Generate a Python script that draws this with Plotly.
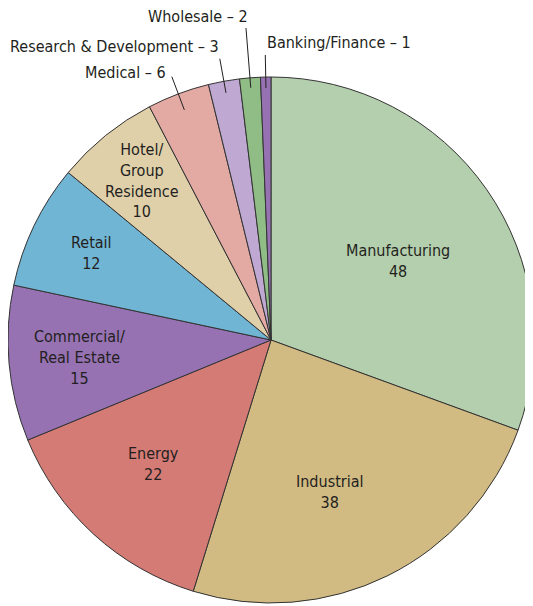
import math
import plotly.graph_objects as go

W, H = 533, 606
OFF = 8  # page body margin in the browser (px)

categories = ["Manufacturing", "Industrial", "Energy", "Commercial/<br>Real Estate", "Retail",
              "Hotel/<br>Group<br>Residence", "Medical", "Research & Development", "Wholesale",
              "Banking/Finance"]
values = [48, 38, 22, 15, 12, 10, 6, 3, 2, 1]
colors = ["#b3cfad", "#d1bb83", "#d47b75", "#9672b3", "#71b5d5",
          "#e0d0aa", "#e2aaa3", "#bfa9d3", "#8fbd85", "#9672b3"]

# style: label placement (radius fraction, angle tweak in degrees) for inside labels
label_rfrac = [0.57, 0.62, 0.65, 0.73, 0.76, 0.78, None, None, None, None]
label_dang = [3, 5, 1, 0, 0, 0, 0, 0, 0, 0]
# outside label styling: (leader inner frac, leader outer frac, xanchor, dx, dy)
outside_style = {
    6: (0.935, 1.07, "right", -4, -4),
    7: (0.955, 1.087, "right", 1, -12),
    8: (0.962, 1.19, "right", 4, -12),
    9: (0.958, 1.084, "left", 0, -12),
}

cx, cy, R = 271, 340, 263   # screen pixels
font_family = "Liberation Sans Narrow, DejaVu Sans Condensed, Arial Narrow, sans-serif"
text_color = "#231f20"
FS = 16

def px(x):
    return (x - OFF) / W

def py(y):
    return 1 - (y - OFF) / H

total = sum(values)
fig = go.Figure(go.Pie(
    labels=[c.replace("<br>", " ") for c in categories],
    values=values,
    sort=False,
    direction="clockwise",
    rotation=0,
    textinfo="none",
    marker=dict(colors=colors, line=dict(color="#333333", width=1)),
    domain=dict(x=[max(0, px(cx - R)), min(1, px(cx + R))], y=[py(cy + R), py(cy - R)]),
    showlegend=False,
))

annotations = []
shapes = []
cum = 0
for i, (cat, v) in enumerate(zip(categories, values)):
    mid = (cum + v / 2) / total * 2 * math.pi
    cum += v
    if label_rfrac[i] is not None:
        a = mid + math.radians(label_dang[i])
        s, c = math.sin(a), -math.cos(a)
        f = label_rfrac[i]
        annotations.append(dict(
            x=px(cx + f * R * s), y=py(cy + f * R * c), xref="paper", yref="paper",
            xanchor="center", yanchor="middle",
            text=f"{cat}<br>{v}", showarrow=False, align="center",
            font=dict(family=font_family, size=FS, color=text_color),
        ))
    else:
        s, c = math.sin(mid), -math.cos(mid)
        fi, fo, xa, dx, dy = outside_style[i]
        x0, y0 = cx + fi * R * s, cy + fi * R * c
        x1, y1 = cx + fo * R * s, cy + fo * R * c
        shapes.append(dict(type="line", xref="paper", yref="paper",
                           x0=px(x0), y0=py(y0), x1=px(x1), y1=py(y1),
                           line=dict(color="#231f20", width=1)))
        annotations.append(dict(
            x=px(x1 + dx), y=py(y1 + dy), xref="paper", yref="paper",
            xanchor=xa, yanchor="middle",
            text=f"{cat} – {v}", showarrow=False,
            font=dict(family=font_family, size=FS, color=text_color),
        ))

fig.update_layout(
    width=W, height=H,
    margin=dict(l=0, r=0, t=0, b=0),
    paper_bgcolor="white",
    plot_bgcolor="white",
    annotations=annotations,
    shapes=shapes,
)

fig.write_html("out.html")
